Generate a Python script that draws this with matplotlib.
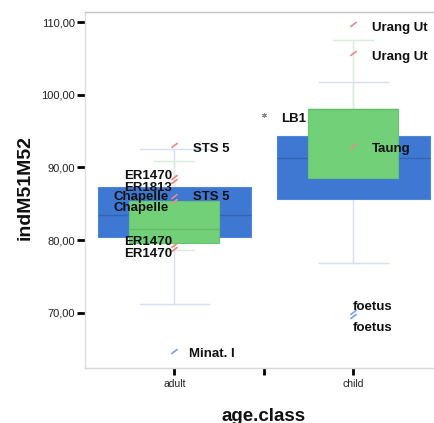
import matplotlib
matplotlib.use("Agg")
import matplotlib.pyplot as plt
from matplotlib.path import Path
from matplotlib.ticker import FuncFormatter

# ---------------- data ----------------
categories = ["adult", "child"]
yticks = [70, 80, 90, 100, 110]

# series 1 (blue) box statistics per category
s1_whislo = [71.2, 76.8]
s1_q1 = [80.45, 85.7]
s1_med = [83.5, 91.3]
s1_q3 = [87.3, 94.3]
s1_whishi = [92.6, 101.8]

# series 2 (green) box statistics per category
s2_whislo = [78.6, 88.6]
s2_q1 = [79.6, 88.6]
s2_med = [81.55, 98.0]
s2_q3 = [85.4, 98.0]
s2_whishi = [90.9, 107.5]

# outliers: category position, value, colour kind
out_pos = [0, 0, 0, 0, 0, 0, 0, 0, 1, 1, 1, 1, 1]
out_val = [93.1, 88.7, 88.1, 86.1, 85.4, 79.35, 78.8, 64.7,
           109.8, 105.7, 92.9, 70.1, 69.6]
out_kind = ["r", "r", "r", "r", "r", "r", "r", "b",
            "r", "r", "r", "b", "b"]
extreme_pos = [0.5]
extreme_val = [97.2]

# labels: text, outlier index
lab_text = ["STS 5", "STS 5", "ER1470", "ER1813", "Chapelle", "Chapelle",
            "ER1470", "ER1470", "Minat. I", "Urang Ut", "Urang Ut", "Taung",
            "foetus", "foetus"]
lab_idx = [0, 4, 1, 2, 3, 4, 5, 6, 7, 8, 9, 10, 11, 12]
# pixel offsets (dx right, dy down) and alignment
lab_off = [(19, 4), (19, -4), (-2, -1), (-2, 7), (-6, 1), (-6, 7),
           (-2, -3), (-2, 5), (15, 3), (19, 4), (19, 4), (19, 3),
           (0, -5), (0, 12)]
lab_ha = ["left", "left", "right", "right", "right", "right",
          "right", "right", "left", "left", "left", "left", "left", "left"]
extreme_label = ["LB1"]

# ---------------- figure ----------------
W, H, DPI = 434, 423, 100
fig = plt.figure(figsize=(W / DPI, H / DPI), dpi=DPI)
ax = fig.add_axes([85 / W, (H - 368) / H, (442.5 - 85) / W, (368 - 12) / H])
FONT = "Liberation Sans"

BLUE = "#3e78d2"
BLUE_E = "#4f86d8"
GREEN = "#72d078"
GREEN_E = "#68c46e"

positions = list(range(len(categories)))


def stats(lo, q1, med, q3, hi):
    return [dict(whislo=lo[i], q1=q1[i], med=med[i], q3=q3[i], whishi=hi[i],
                 fliers=[]) for i in range(len(lo))]


ax.bxp(stats(s1_whislo, s1_q1, s1_med, s1_q3, s1_whishi), positions=positions,
       widths=0.856, capwidths=0.385, patch_artist=True, manage_ticks=False,
       showfliers=False,
       boxprops=dict(facecolor=BLUE, edgecolor=BLUE_E, linewidth=0.8, zorder=2),
       medianprops=dict(color="#3466b6", linewidth=1.0, zorder=2.2),
       whiskerprops=dict(color="#d6e0f2", linewidth=1.0, zorder=1),
       capprops=dict(color="#d6e0f2", linewidth=1.0, zorder=1))

ax.bxp(stats(s2_whislo, s2_q1, s2_med, s2_q3, s2_whishi), positions=positions,
       widths=0.503, capwidths=0.225, patch_artist=True, manage_ticks=False,
       showfliers=False,
       boxprops=dict(facecolor=GREEN, edgecolor=GREEN_E, linewidth=0.8, zorder=3),
       medianprops=dict(color="#62bb68", linewidth=1.0, zorder=3.2),
       whiskerprops=dict(color="#d8eed8", linewidth=1.0, zorder=1.1),
       capprops=dict(color="#d8eed8", linewidth=1.0, zorder=1.1))

slash = Path([(-1, -0.75), (1, 0.75)], [Path.MOVETO, Path.LINETO])
cols = {"r": "#ee8a86", "b": "#7f9ee6"}
for k in ("r", "b"):
    xs = [p for p, kk in zip(out_pos, out_kind) if kk == k]
    ys = [v for v, kk in zip(out_val, out_kind) if kk == k]
    ax.plot(xs, ys, linestyle="none", marker=slash, markersize=4.5,
            markeredgecolor=cols[k], markeredgewidth=1.2, zorder=4)
ax.plot(extreme_pos, extreme_val, linestyle="none", marker=(6, 2, 0),
        markersize=3.5, markeredgecolor="#8a8a8a", markeredgewidth=0.7, zorder=4)

px = 72 / DPI
for t, i, (dx, dy), ha in zip(lab_text, lab_idx, lab_off, lab_ha):
    ax.annotate(t, (out_pos[i], out_val[i]), xytext=(dx * px, -dy * px),
                textcoords="offset points", ha=ha, va="center",
                fontsize=9.5, fontweight="bold", family=FONT, color="#111111",
                zorder=5, annotation_clip=False)
for t, p, v in zip(extreme_label, extreme_pos, extreme_val):
    ax.annotate(t, (p, v), xytext=(17 * px, -4 * px), textcoords="offset points",
                ha="left", va="center", fontsize=9.5, fontweight="bold",
                family=FONT, color="#111111", zorder=5)

ax.set_xlim(-0.5, 1.5)
ax.set_ylim(62.4, 111.4)
ax.set_yticks(yticks)
ax.yaxis.set_major_formatter(FuncFormatter(lambda v, _: f"{v:.2f}".replace(".", ",")))
ax.set_xticks([0, 0.5, 1])
ax.set_xticklabels([categories[0], "", categories[1]])
ax.tick_params(axis="y", length=5.5, width=2, color="black", pad=1.5,
               labelsize=8, labelcolor="#222222")
ax.tick_params(axis="x", length=5, width=2, color="black", pad=3,
               labelsize=7.5, labelcolor="#222222")
for lab in ax.get_xticklabels() + ax.get_yticklabels():
    lab.set_family(FONT)

ax.spines["right"].set_visible(False)
ax.spines["top"].set_color("#c4c4c4")
ax.spines["left"].set_color("#dedede")
ax.spines["bottom"].set_color("#d8d8d8")
for s in ("top", "left", "bottom"):
    ax.spines[s].set_linewidth(1.0)

fig.text(25 / W, 1 - 188 / H, "indM51M52", rotation=90, ha="center", va="center",
         fontsize=14, fontweight="bold", family=FONT, color="#111111")
fig.text(264 / W, 1 - 421 / H, "age.class", ha="center", va="baseline",
         fontsize=13.5, fontweight="bold", family=FONT, color="#111111")

fig.savefig("out.png", dpi=DPI)
